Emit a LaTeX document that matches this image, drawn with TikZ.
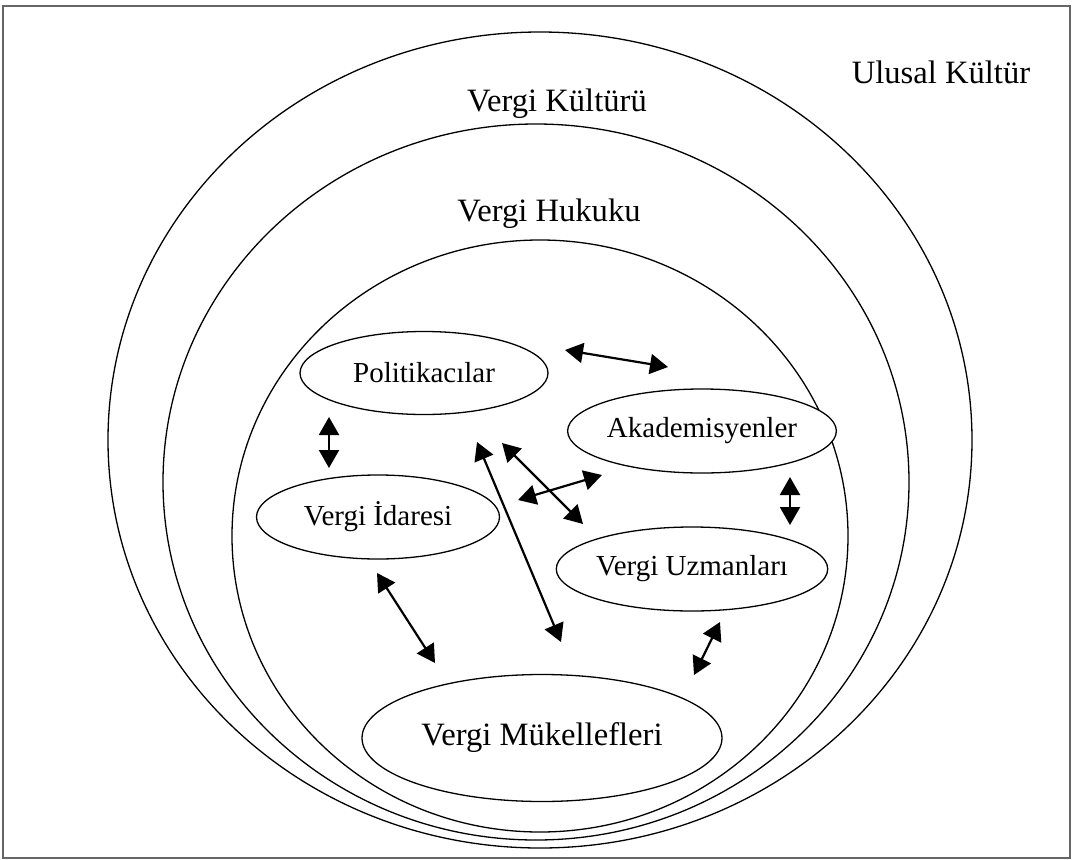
\documentclass[tikz,border=0pt]{standalone}
\usepackage{fontspec}
\setmainfont{Liberation Serif}
\usetikzlibrary{positioning,shapes.geometric,arrows.meta}

\begin{document}
\begin{tikzpicture}[x=1pt,y=-1pt]
	\tikzset{
		v/.style={ellipse, draw=black, line width=1.3pt, fill=white,
			inner sep=0pt, font=\fontsize{29}{34}\selectfont},
		ring/.style={draw=black, line width=1.3pt},
		e/.style={{Triangle[length=18pt,width=20pt]}-{Triangle[length=18pt,width=20pt]}, line width=2.2pt},
		w/.style={font=\fontsize{32.6}{38}\selectfont, inner sep=0pt}
	}
	\useasboundingbox (0,0) rectangle (1072,860);
	\draw[black!60, line width=1.2pt] (3,6) rectangle (1070,858);
	
	% ======= Rings =======
	\draw[ring] (540,440) ellipse [x radius=432, y radius=408];
	\draw[ring] (536,482) ellipse [x radius=373, y radius=358];
	\draw[ring] (540,536) ellipse [x radius=308, y radius=296];
	
	\node[w] (ulusal) at (941,72) {Ulusal Kültür};
	\node[w] (kultur) at (557,104) {Vergi Kültürü};
	\node[w] (hukuk)  at (549,214) {Vergi Hukuku};
	
	% ======= Actors =======
	\node[v, minimum width=248, minimum height=83] (pol) at (424,373) {Politikacılar};
	\node[v, minimum width=243, minimum height=84] (ida) at (378,517) {Vergi İdaresi};
	\node[v, minimum width=240, minimum height=84] (aka) at (702,431) {Akademisyenler};
	\node[v, minimum width=262, minimum height=84] (uzm) at (692,569) {Vergi Uzmanları};
	\node[v, minimum width=360, minimum height=127,
		font=\fontsize{32.6}{38}\selectfont] (muk) at (542,738) {Vergi Mükellefleri};
	
	% ======= Arrow ends =======
	\coordinate (a1s) at (565,350); \coordinate (a1e) at (668,367);
	\coordinate (a2s) at (329,417); \coordinate (a2e) at (329,468);
	\coordinate (a3s) at (477,442); \coordinate (a3e) at (561,642);
	\coordinate (a4s) at (502,443); \coordinate (a4e) at (583,524);
	\coordinate (a5s) at (518,500); \coordinate (a5e) at (602,475);
	\coordinate (a6s) at (790,477); \coordinate (a6e) at (790,525);
	\coordinate (a7s) at (720,622); \coordinate (a7e) at (694,675);
	\coordinate (a8s) at (377,573); \coordinate (a8e) at (435,663);
	
	% ======= Two-way arrows =======
	\draw[e] (a1s) -- (a1e);
	\draw[e] (a2s) -- (a2e);
	\draw[e] (a3s) -- (a3e);
	\draw[e] (a4s) -- (a4e);
	\draw[e] (a5s) -- (a5e);
	\draw[e] (a6s) -- (a6e);
	\draw[e] (a7s) -- (a7e);
	\draw[e] (a8s) -- (a8e);
\end{tikzpicture}
\end{document}
